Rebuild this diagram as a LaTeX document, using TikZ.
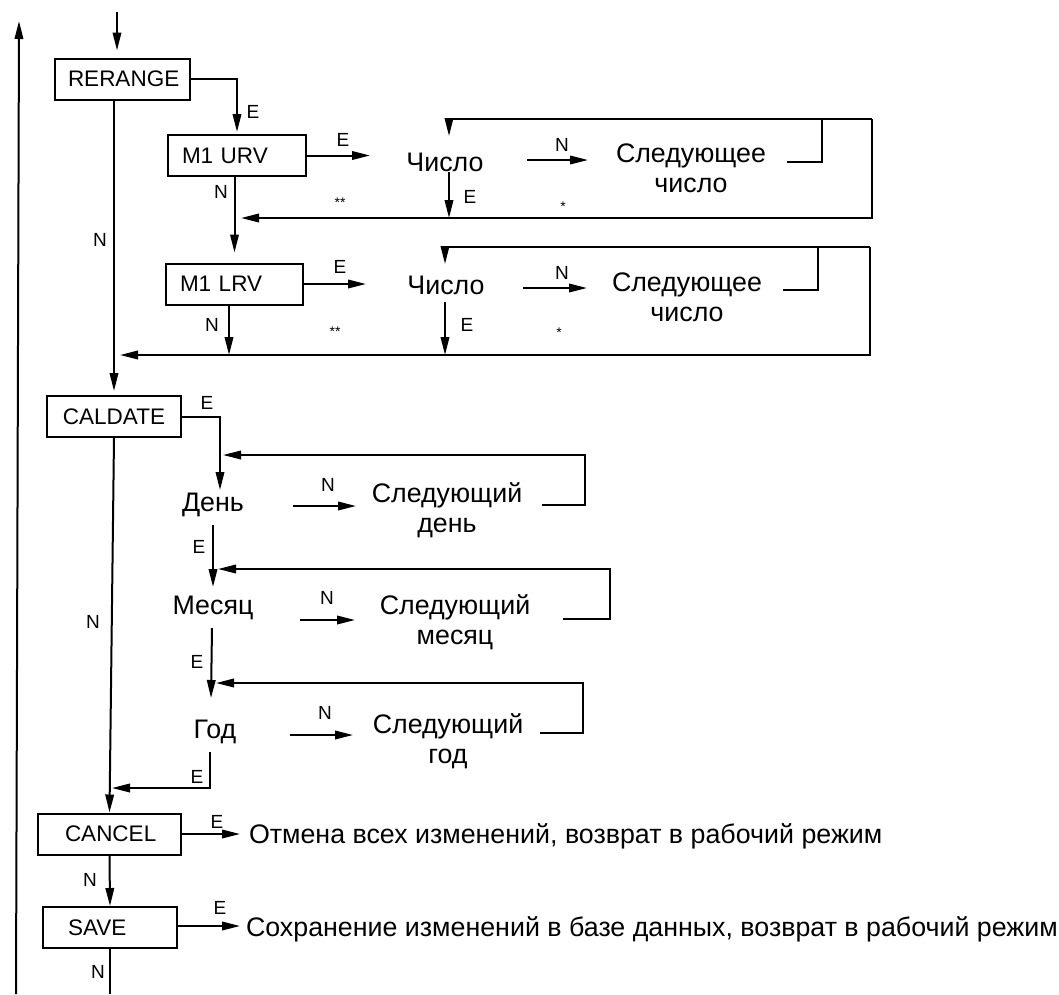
\documentclass[tikz,border=0pt]{standalone}
\usepackage{fontspec}
\setmainfont{Liberation Sans}
\usetikzlibrary{arrows.meta}
\begin{document}
\begin{tikzpicture}[x=1pt,y=-1pt,
  line width=2pt,
  arr/.style={-{Triangle[length=18pt,width=8.5pt]}},
  mbox/.style={draw, line width=2pt, font=\fontsize{22.5}{24}\selectfont, minimum height=41pt, inner ysep=0pt, align=left},
  txt/.style={font=\fontsize{26.8}{30}\selectfont, inner sep=0pt, align=center},
  lbl/.style={font=\fontsize{19}{20}\selectfont, inner sep=0pt},
  star/.style={font=\fontsize{14}{14}\selectfont, inner sep=0pt}]
\useasboundingbox (0,0) rectangle (1059,994);

% left return arrow and entry
\coordinate (Lb) at (16,994);
\coordinate (Lt) at (19,21);
\draw[arr] (Lb) -- (Lt);
\coordinate (In) at (117,12);

% boxes
\node[mbox, text width=109pt, inner xsep=13pt] (rerange) at (122.5,79) {RERANGE};
\node[mbox, text width=110pt, inner xsep=14pt] (urv) at (237,155.5) {M1 URV};
\node[mbox, text width=109pt, inner xsep=14pt] (lrv) at (234.5,284) {M1 LRV};
\node[mbox, text width=106pt, inner xsep=14pt, align=center] (caldate) at (114,416.5) {CALDATE};
\node[mbox, text width=89pt, inner xsep=27pt] (cancel) at (109.5,834) {CANCEL};
\node[mbox, text width=84pt, inner xsep=25pt] (save) at (110,927.5) {SAVE};

\draw[arr, shorten >=7pt] (In) -- (In |- rerange.north);
\draw[arr, shorten >=2pt] (rerange.east) -| (urv.north);
\node[lbl] at (253,112) {E};

% ---------- row 1 (URV)
\node[txt] (ch1) at (445,162) {Число};
\coordinate (ch1in) at (370,155.5);
\draw[arr] (urv.east) -- (ch1in);
\node[lbl] at (343,140) {E};
\coordinate (t1L) at (449,119);
\coordinate (t1R) at (872,119);
\coordinate (b1R) at (872,218);
\coordinate (b1L) at (241,218);
\coordinate (a1) at (449,136);
\draw[arr] (t1R) -- (t1L) -- (a1);
\draw[arr] (t1R) -- (b1R) -- (b1L);
\coordinate (s1a) at (787,162);
\coordinate (s1b) at (822,162);
\coordinate (s1c) at (822,119);
\draw (s1a) -- (s1b) -- (s1c);
\coordinate (d1a) at (449,172);
\coordinate (d1b) at (449,218);
\draw[arr] (d1a) -- (d1b);
\node[lbl] at (470,197) {E};
\coordinate (n1a) at (527,160);
\coordinate (n1b) at (588,160);
\draw[arr] (n1a) -- (n1b);
\node[lbl] at (562,145) {N};
\node[txt] (sl1) at (691,168) {Следующее\\число};
\node[star] at (563,207) {*};
\node[star] at (340,203) {**};

% URV -> LRV
\draw[arr, shorten >=10pt] (lrv.north |- urv.south) -- (lrv.north);
\node[lbl] at (221,192) {N};

% ---------- row 2 (LRV)
\node[txt] (ch2) at (446,285) {Число};
\coordinate (ch2in) at (366,284);
\draw[arr] (lrv.east) -- (ch2in);
\node[lbl] at (340,267) {E};
\coordinate (t2L) at (445,247);
\coordinate (t2R) at (870,247);
\coordinate (b2R) at (870,355);
\coordinate (b2L) at (120,355);
\coordinate (a2) at (445,264);
\draw[arr] (t2R) -- (t2L) -- (a2);
\draw[arr] (t2R) -- (b2R) -- (b2L);
\coordinate (s2a) at (783,290);
\coordinate (s2b) at (818,290);
\coordinate (s2c) at (818,247);
\draw (s2a) -- (s2b) -- (s2c);
\coordinate (d2a) at (445,302);
\coordinate (d2b) at (445,355);
\draw[arr] (d2a) -- (d2b);
\node[lbl] at (467,325) {E};
\coordinate (n2a) at (523,288);
\coordinate (n2b) at (587,288);
\draw[arr] (n2a) -- (n2b);
\node[lbl] at (562,273) {N};
\node[txt] (sl2) at (687,297) {Следующее\\число};
\node[star] at (559,333) {*};
\node[star] at (335,332) {**};

\coordinate (lrvN) at (229,355);
\draw[arr] (lrv.south -| lrvN) -- (lrvN);
\node[lbl] at (212,325) {N};

% RERANGE N -> CALDATE
\draw[arr, shorten >=4pt] (caldate.north |- rerange.south) -- (caldate.north);
\node[lbl] at (100,240) {N};

% ---------- CALDATE
\coordinate (dn) at (220,490);
\draw[arr] (caldate.east) -| (dn);
\node[lbl] at (207,403) {E};

\node[txt] (den) at (213,505) {День};
\coordinate (l3a) at (542,505);
\coordinate (l3b) at (585,505);
\coordinate (l3c) at (585,455);
\coordinate (l3d) at (223,455);
\draw[arr] (l3a) -- (l3b) -- (l3c) -- (l3d);
\coordinate (n3a) at (293,506);
\coordinate (n3b) at (356,506);
\draw[arr] (n3a) -- (n3b);
\node[lbl] at (328,485) {N};
\node[txt] (sl3) at (447,510) {Следующий\\день};
\coordinate (e3a) at (213,525);
\coordinate (e3b) at (213,587);
\draw[arr] (e3a) -- (e3b);
\node[lbl] at (199,547) {E};

\node[txt] (mes) at (213,608) {Месяц};
\coordinate (l4a) at (563,619);
\coordinate (l4b) at (610,619);
\coordinate (l4c) at (610,569);
\coordinate (l4d) at (218,569);
\draw[arr] (l4a) -- (l4b) -- (l4c) -- (l4d);
\coordinate (n4a) at (300,620);
\coordinate (n4b) at (355,620);
\draw[arr] (n4a) -- (n4b);
\node[lbl] at (327,598) {N};
\node[txt] (sl4) at (455,622) {Следующий\\месяц};
\coordinate (e4a) at (212,628);
\coordinate (e4b) at (211,698);
\draw[arr] (e4a) -- (e4b);
\node[lbl] at (197,662) {E};

\node[txt] (god) at (215,732) {Год};
\coordinate (l5a) at (540,733);
\coordinate (l5b) at (583,733);
\coordinate (l5c) at (583,683);
\coordinate (l5d) at (216,683);
\draw[arr] (l5a) -- (l5b) -- (l5c) -- (l5d);
\coordinate (n5a) at (290,735);
\coordinate (n5b) at (353,735);
\draw[arr] (n5a) -- (n5b);
\node[lbl] at (325,713) {N};
\node[txt] (sl5) at (448,741) {Следующий\\год};
\coordinate (e5a) at (210,752);
\coordinate (e5b) at (210,788);
\coordinate (e5c) at (112,788);
\draw[arr] (e5a) -- (e5b) -- (e5c);
\node[lbl] at (197,777) {E};

% CALDATE N -> CANCEL
\draw[arr] (caldate.south) -- (cancel.north);
\node[lbl] at (93,622) {N};

% ---------- CANCEL / SAVE
\coordinate (c1) at (240,834);
\draw[arr] (cancel.east) -- (c1);
\node[lbl] at (217,822) {E};
\node[txt, anchor=west] (ctext) at (248,836) {Отмена всех изменений, возврат в рабочий режим};

\draw[arr] (cancel.south) -- (save.north);
\node[lbl] at (90,880) {N};

\coordinate (s1) at (240,926);
\draw[arr] (save.east |- s1) -- (s1);
\node[lbl] at (220,908) {E};
\node[txt, anchor=west] (stext) at (245,929) {Сохранение изменений в базе данных, возврат в рабочий режим};

\coordinate (sN) at (110,994);
\draw (save.south) -- (sN);
\node[lbl] at (98,972) {N};
\end{tikzpicture}
\end{document}
